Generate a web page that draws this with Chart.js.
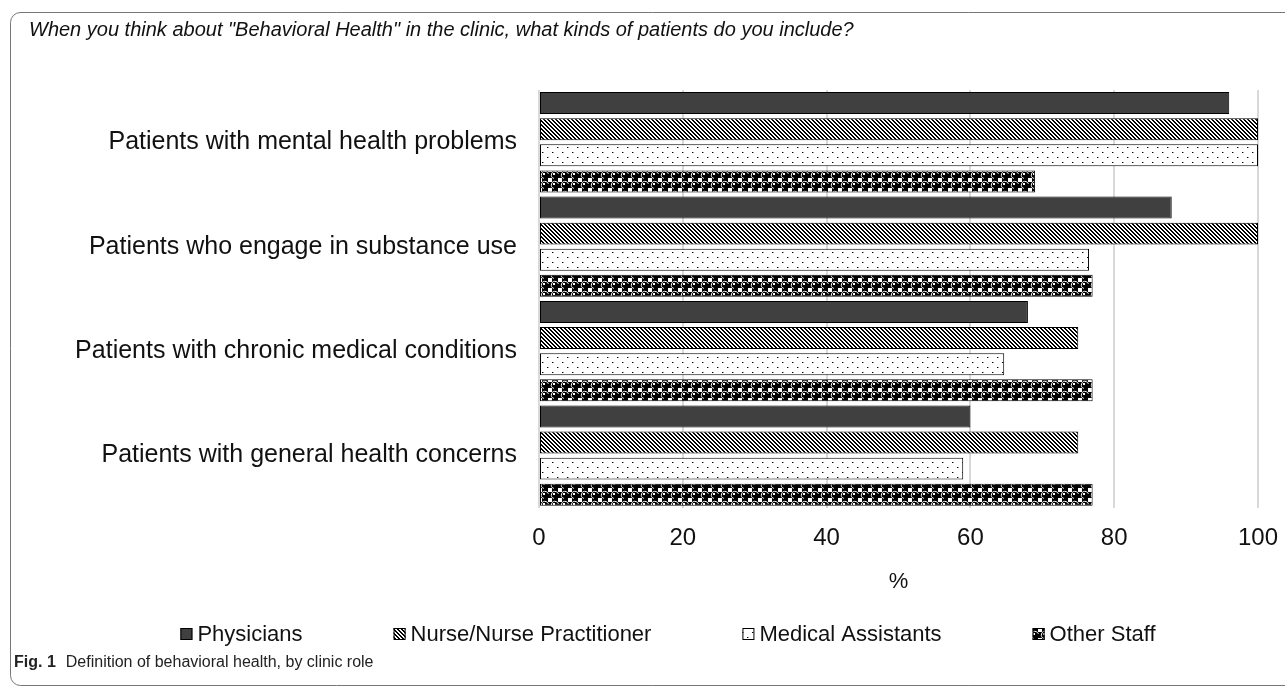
<!DOCTYPE html>
<html>
<head>
<meta charset="utf-8">
<script src="https://cdn.jsdelivr.net/npm/chart.js@4.4.1/dist/chart.umd.min.js"></script>
<style>
  html, body { margin: 0; padding: 0; background: #fff; }
  #wrap { width: 1285px; height: 689px; }
</style>
</head>
<body>
<div id="wrap"><canvas id="chart" width="1285" height="689"></canvas></div>
<script>
const categories = [
  'Patients with mental health problems',
  'Patients who engage in substance use',
  'Patients with chronic medical conditions',
  'Patients with general health concerns',
]
const roles = ['Physicians', 'Nurse/Nurse Practitioner', 'Medical Assistants', 'Other Staff']
const physicians = [96, 88, 68, 60]
const nurses = [100, 100, 75, 75]
const medicalAssistants = [100, 76.5, 64.7, 59]
const otherStaff = [69, 77, 77, 77]
const xTicks = [0, 20, 40, 60, 80, 100]

const titleText = 'When you think about "Behavioral Health" in the clinic, what kinds of patients do you include?'
const FONT = "'Liberation Sans', Arial, sans-serif"

// fill patterns like the old excel ones
function makePattern(kind) {
  const c = document.createElement('canvas')
  const n = kind === 'stripe' ? 8 : 10
  c.width = n
  c.height = n
  const g = c.getContext('2d')
  g.fillStyle = '#fff'
  g.fillRect(0, 0, n, n)
  g.fillStyle = '#000'
  if (kind === 'stripe') {
    for (let y = 0; y < n; y++) {
      for (let x = 0; x < n; x++) {
        if ((((x - y) % 4) + 4) % 4 < 2) g.fillRect(x, y, 1, 1)
      }
    }
  } else if (kind === 'dots') {
    g.fillRect(2, 2, 1, 1)
    g.fillRect(7, 7, 1, 1)
    g.fillStyle = '#999'
    g.fillRect(3, 2, 1, 1)
    g.fillRect(8, 7, 1, 1)
  } else if (kind === 'sphere') {
    g.fillRect(0, 0, n, n)
    g.fillStyle = '#fff'
    // little white squares between the balls
    g.fillRect(0, 0, 2, 2)
    g.fillRect(n - 2, 0, 2, 2)
    g.fillRect(0, n - 2, 2, 2)
    g.fillRect(n - 2, n - 2, 2, 2)
    g.strokeStyle = '#fff'
    g.lineWidth = 1
    g.beginPath()
    g.arc(5, 5, 3.6, Math.PI * 0.6, Math.PI * 1.9)
    g.stroke()
    g.fillRect(3, 3, 2, 2)
  }
  return g.createPattern(c, 'repeat')
}

const fills = ['#404040', makePattern('stripe'), makePattern('dots'), makePattern('sphere')]
const seriesValues = [physicians, nurses, medicalAssistants, otherStaff]

// frame, legend, caption
const framePlugin = {
  id: 'framePlugin',
  beforeDraw(chart) {
    const { ctx, width } = chart
    ctx.save()
    ctx.fillStyle = '#fff'
    ctx.fillRect(0, 0, width, chart.height)
    ctx.strokeStyle = '#777'
    ctx.lineWidth = 1
    ctx.beginPath()
    ctx.moveTo(width, 12.5)
    ctx.lineTo(20, 12.5)
    ctx.arcTo(10.5, 12.5, 10.5, 22, 10)
    ctx.lineTo(10.5, 675)
    ctx.arcTo(10.5, 685.5, 20, 685.5, 10)
    ctx.lineTo(width, 685.5)
    ctx.stroke()
    ctx.restore()
  },
  afterDraw(chart) {
    const { ctx } = chart
    ctx.save()
    // legend row
    ctx.font = '22px ' + FONT
    ctx.textBaseline = 'middle'
    const gap = 91
    const box = 12
    const widths = chart.data.datasets.map(d => box + 5 + ctx.measureText(d.label).width)
    const total = widths.reduce((a, b) => a + b, 0) + gap * (widths.length - 1)
    let x = 668 - total / 2
    const y = 634
    chart.data.datasets.forEach((d, i) => {
      ctx.fillStyle = d.backgroundColor
      ctx.fillRect(x, y - box / 2, box, box)
      ctx.strokeStyle = '#000'
      ctx.lineWidth = 1
      ctx.strokeRect(x + 0.5, y - box / 2 + 0.5, box - 1, box - 1)
      ctx.fillStyle = '#111'
      ctx.fillText(d.label, x + box + 5, y + 1)
      x += widths[i] + gap
    })
    // caption
    ctx.fillStyle = '#222'
    ctx.font = "bold 16px 'Liberation Sans', sans-serif"
    ctx.fillText('Fig. 1', 14, 663)
    const w = ctx.measureText('Fig. 1').width
    ctx.font = "16px 'Liberation Sans', sans-serif"
    ctx.fillText('Definition of behavioral health, by clinic role', 14 + w + 10, 663)
    ctx.restore()
  },
}

new Chart(document.getElementById('chart'), {
  type: 'bar',
  data: {
    labels: categories,
    datasets: roles.map((r, i) => ({
      label: r,
      data: seriesValues[i],
      backgroundColor: fills[i],
      borderColor: '#000',
      borderWidth: 1,
      borderSkipped: false,
      categoryPercentage: 1,
      barPercentage: 0.842,
    })),
  },
  options: {
    indexAxis: 'y',
    responsive: false,
    animation: false,
    devicePixelRatio: 1,
    layout: { padding: { left: 29, right: 27, top: 0, bottom: 94 } },
    plugins: {
      title: {
        display: true,
        text: titleText,
        align: 'start',
        color: '#111',
        font: { family: FONT, size: 20, style: 'italic', weight: 'normal' },
        padding: { top: 18, bottom: 48 },
      },
      legend: { display: false },
      tooltip: { enabled: false },
    },
    scales: {
      x: {
        min: 0,
        max: 100,
        afterBuildTicks(scale) {
          scale.ticks = xTicks.map(v => ({ value: v }))
        },
        afterFit(scale) {
          // let the "100" label hang into the right margin
          scale.paddingRight = 0
          scale.paddingLeft = 0
        },
        grid: { color: '#d9d9d9', lineWidth: 2, drawTicks: false },
        border: { display: false },
        ticks: { color: '#111', padding: 16, font: { family: FONT, size: 24 } },
        title: {
          display: true,
          text: '%',
          color: '#111',
          font: { family: FONT, size: 22 },
          padding: { top: 0, bottom: 0 },
        },
      },
      y: {
        afterFit(scale) {
          scale.width = 510
        },
        grid: { display: false, drawTicks: false },
        border: { display: false },
        ticks: { color: '#111', padding: 22, font: { family: FONT, size: 25 } },
      },
    },
  },
  plugins: [framePlugin],
})
</script>
</body>
</html>
